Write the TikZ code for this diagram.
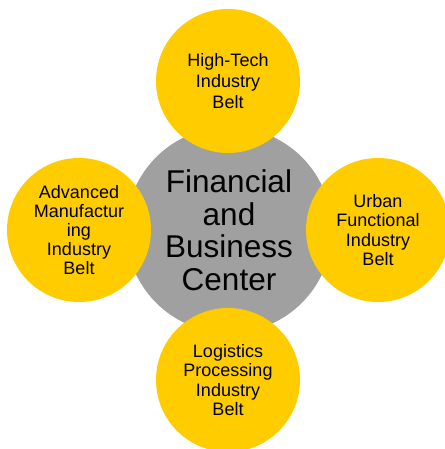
\documentclass[tikz,border=0pt]{standalone}
\usepackage{fontspec}
\setmainfont{Liberation Sans}
\definecolor{hubgray}{HTML}{A0A0A0}
\definecolor{beltyellow}{HTML}{FFCC00}
\begin{document}
\begin{tikzpicture}[x=1pt,y=-1pt,
  hub/.style={circle,fill=hubgray,minimum size=206pt,inner sep=0pt,
    align=center,font=\fontsize{31.5}{32.5}\selectfont},
  belt/.style={circle,fill=beltyellow,minimum size=144pt,inner sep=0pt,
    align=center,font=\fontsize{18}{19.2}\selectfont},
  widebelt/.style={belt,font=\fontsize{18}{21.3}\selectfont}]
\useasboundingbox (0,0) rectangle (444,449);
\node[hub] (center) at (229,230) {Financial\\and\\Business\\Center};
\node[widebelt] (top) at (228,81) {High-Tech\\Industry\\Belt};
\node[belt] (left) at (79,230) {Advanced\\Manufactur\\ing\\Industry\\Belt};
\node[belt] (right) at (378,230) {Urban\\Functional\\Industry\\Belt};
\node[belt] (bottom) at (228,380) {Logistics\\Processing\\Industry\\Belt};
\end{tikzpicture}
\end{document}
